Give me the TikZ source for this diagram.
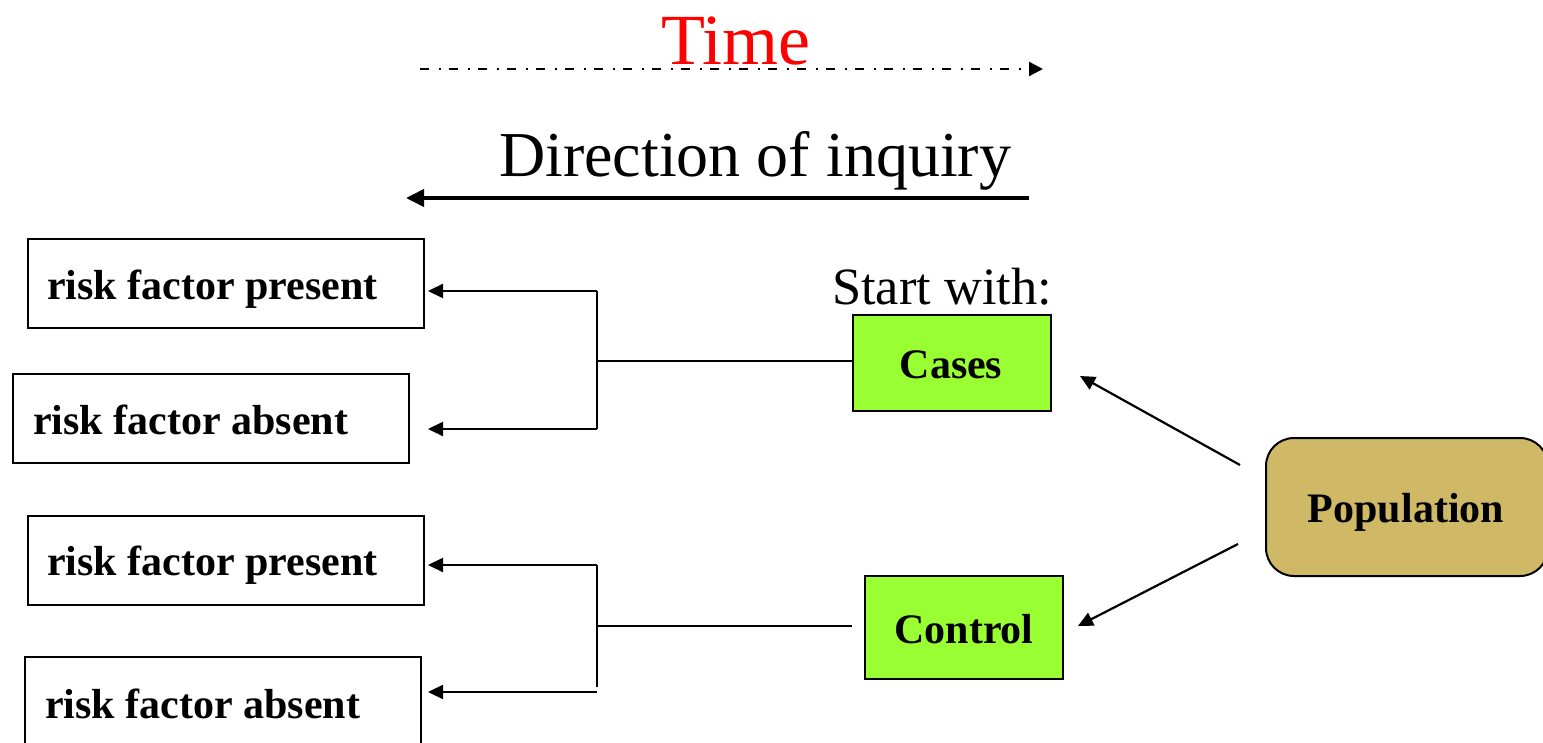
\documentclass[tikz,border=0pt]{standalone}
\usepackage{fontspec}
\setmainfont{Liberation Serif}
\usetikzlibrary{arrows.meta}
\definecolor{boxgreen}{HTML}{99FF33}
\definecolor{poptan}{HTML}{CFB966}
\tikzset{
  rfbox/.style={draw=black, line width=2pt, rectangle, minimum width=396pt, minimum height=89pt, anchor=north west, inner sep=0pt},
  rflabel/.style={font=\fontsize{42}{48}\selectfont\bfseries, inner sep=0pt, anchor=base west},
  greenbox/.style={draw=black, line width=2pt, fill=boxgreen, rectangle, anchor=north west, inner sep=0pt},
  boldtxt/.style={font=\fontsize{42}{48}\selectfont\bfseries, inner sep=0pt},
  plainline/.style={line width=1.8pt, draw=black},
  arr/.style={line width=2.2pt, -{Triangle[length=15pt,width=14pt]}},
}
\begin{document}
\begin{tikzpicture}[x=1pt,y=-1pt]
\useasboundingbox (0,0) rectangle (1543,743);
% Top labels
\node[font=\fontsize{72}{80}\selectfont, text=red, inner sep=0pt, anchor=base] (time) at (736,65) {Time};
\coordinate (tA) at (420,69);
\coordinate (tB) at (1043,69);
\draw[line width=2.2pt, dash pattern=on 9pt off 9.5pt on 2.5pt off 8pt, -{Triangle[length=14pt,width=14pt]}] (tA) -- (tB);
\node[font=\fontsize{64}{72}\selectfont, inner sep=0pt, anchor=base west] (dir) at (499,177) {Direction of inquiry};
\coordinate (dA) at (1029,198);
\coordinate (dB) at (406,198);
\draw[line width=3.8pt, -{Triangle[length=18pt,width=17pt]}] (dA) -- (dB);
\node[font=\fontsize{52.4}{60}\selectfont, inner sep=0pt, anchor=base west] (start) at (832,305) {Start with:};

% Left boxes
\node[rfbox] (rfp1) at (27,238) {};
\node[rflabel] (rfp1t) at (47,300) {risk factor present};
\node[rfbox] (rfa1) at (12,373) {};
\node[rflabel] (rfa1t) at (33,435) {risk factor absent};
\node[rfbox] (rfp2) at (27,515) {};
\node[rflabel] (rfp2t) at (47,575) {risk factor present};
\node[rfbox, minimum height=100pt] (rfa2) at (24,656) {};
\node[rflabel] (rfa2t) at (45,718) {risk factor absent};

% Green boxes
\node[greenbox, minimum width=198pt, minimum height=96pt] (cases) at (852,314) {};
\node[boldtxt, anchor=base] (casest) at (951,378) {Cases};
\node[greenbox, minimum width=198pt, minimum height=103pt] (control) at (864,575) {};
\node[boldtxt, anchor=base] (controlt) at (964,643) {Control};

% Population
\node[draw=black, line width=2pt, fill=poptan, rounded corners=28pt, minimum width=282pt, minimum height=138pt, anchor=north west, inner sep=0pt] (pop) at (1265,437) {};
\node[boldtxt, anchor=base] (popt) at (1406,522) {Population};

% Junctions
\coordinate (j1) at (597,361);
\coordinate (j1t) at (597,291);
\coordinate (j1b) at (597,429);
\coordinate (a1t) at (428,291);
\coordinate (a1b) at (428,429);
\draw[plainline] (j1t) -- (j1b);
\draw[plainline, line width=1.5pt] (j1) -- (cases.west |- j1);
\draw[arr] (j1t) -- (a1t);
\draw[arr] (j1b) -- (a1b);

\coordinate (j2) at (597,626);
\coordinate (j2t) at (597,565);
\coordinate (j2b) at (597,687);
\coordinate (j2bb) at (597,692);
\coordinate (a2t) at (428,565);
\coordinate (a2b) at (428,692);
\coordinate (j2e) at (852,626);
\draw[plainline] (j2t) -- (j2b);
\draw[plainline, line width=1.5pt] (j2) -- (j2e);
\draw[arr] (j2t) -- (a2t);
\draw[arr] (j2bb) -- (a2b);

% Population arrows
\coordinate (p1) at (1240,465);
\coordinate (c1) at (1080,376);
\coordinate (p2) at (1238,544);
\coordinate (c2) at (1078,626);
\draw[arr] (p1) -- (c1);
\draw[arr] (p2) -- (c2);
\end{tikzpicture}
\end{document}
